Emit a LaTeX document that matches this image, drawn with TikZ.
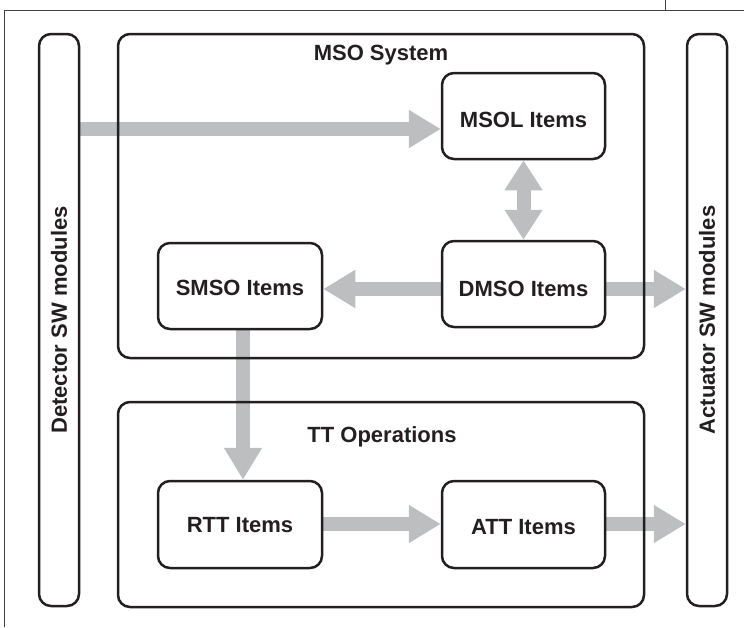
\documentclass[tikz,border=0pt]{standalone}
\usepackage{fontspec}
\setmainfont{Liberation Sans}
\usetikzlibrary{arrows.meta}
\pgfdeclarelayer{bg}
\pgfsetlayers{bg,main}
\definecolor{arrgray}{HTML}{BCBEC0}
\definecolor{ink}{HTML}{231F20}
\tikzset{
  box/.style={draw=ink, line width=2.5pt, rounded corners=12pt, inner sep=0pt},
  lbl/.style={font=\bfseries\fontsize{22}{26}\selectfont, text=ink, inner sep=0pt},
  bigarrow/.style={draw=arrgray, line width=14pt, -{Triangle[length=32pt,width=36pt]}},
  dblarrow/.style={draw=arrgray, line width=14pt, {Triangle[length=30pt,width=36pt]}-{Triangle[length=30pt,width=36pt]}},
  frameline/.style={draw=ink!85, line width=1pt}
}
\begin{document}
\begin{tikzpicture}[x=1pt,y=-1pt]
\useasboundingbox (0,0) rectangle (744,627);
% frame
\coordinate (ftl) at (4,10);
\coordinate (ftr) at (744,10);
\coordinate (fbl) at (4,627);
\coordinate (tk0) at (665,0);
\coordinate (tk1) at (665,10);
\draw[frameline] (fbl) -- (ftl) -- (ftr);
\draw[frameline] (tk0) -- (tk1);
% big containers
\node[box, minimum width=40pt, minimum height=572pt] (det) at (59,320) {};
\node[box, minimum width=40pt, minimum height=572pt] (act) at (707,320) {};
\node[box, minimum width=526pt, minimum height=324pt] (mso) at (381,196) {};
\node[box, minimum width=526pt, minimum height=205pt] (tt) at (381,504.5) {};
\node[lbl, rotate=90] (detl) at (det.center) {Detector SW modules};
\node[lbl, rotate=90] (actl) at (act.center) {Actuator SW modules};
\node[lbl] (msol) at (381,55) {MSO System};
\node[lbl] (ttl) at (382,437) {TT Operations};
% item boxes
\node[box, minimum width=163pt, minimum height=86pt] (msolb) at (523.5,116) {};
\node[box, minimum width=163pt, minimum height=86pt] (dmso) at (523.5,284) {};
\node[box, minimum width=164pt, minimum height=86pt] (smso) at (240,286) {};
\node[box, minimum width=164pt, minimum height=87pt] (rtt) at (240,524.5) {};
\node[box, minimum width=163pt, minimum height=87pt] (att) at (523.5,524.5) {};
\node[lbl] (msolt) at ([yshift=-4pt]msolb.center) {MSOL Items};
\node[lbl] (dmsot) at ([yshift=-4.5pt]dmso.center) {DMSO Items};
\node[lbl] (smsot) at ([yshift=-1.5pt]smso.center) {SMSO Items};
\node[lbl] (rttt) at ([yshift=-0.5pt]rtt.center) {RTT Items};
\node[lbl] (attt) at ([yshift=-3pt]att.center) {ATT Items};
% arrows
\begin{pgfonlayer}{bg}
\draw[bigarrow] (det.east |- 0,129) -- (msolb.west |- 0,129);
\draw[dblarrow] (msolb.south) -- (dmso.north);
\draw[bigarrow] (dmso.west |- 0,289) -- (smso.east |- 0,289);
\draw[bigarrow] (dmso.east |- 0,289) -- (act.west |- 0,289);
\draw[bigarrow] (smso.south -| 243,0) -- (rtt.north -| 243,0);
\draw[bigarrow] (rtt.east |- 0,524) -- (att.west |- 0,524);
\draw[bigarrow] (att.east |- 0,524) -- (act.west |- 0,524);
\end{pgfonlayer}
\end{tikzpicture}
\end{document}
